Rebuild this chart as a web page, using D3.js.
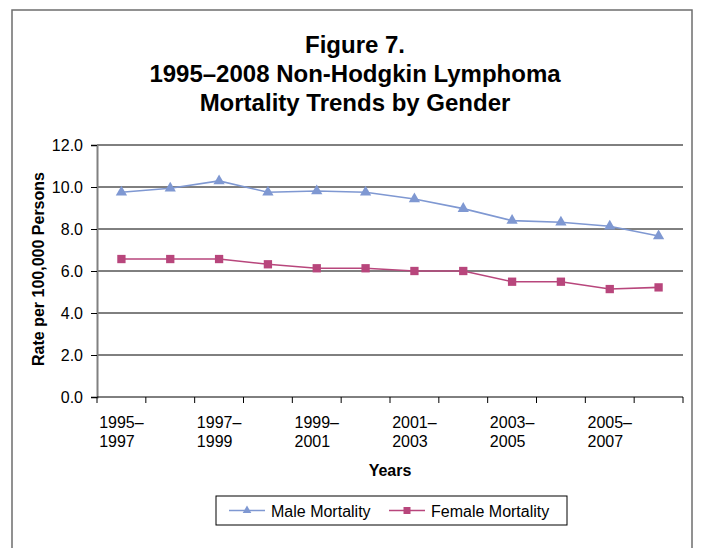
<!DOCTYPE html>
<html>
<head>
<meta charset="utf-8">
<script src="https://cdn.jsdelivr.net/npm/d3@7"></script>
<style>
  body { margin: 0; background: #fff; }
  text { font-family: "Liberation Sans", Arial, sans-serif; fill: #000; }
</style>
</head>
<body>
<div id="main"></div>
<script>
// data
const periods = ["1995–1997", "1996–1998", "1997–1999", "1998–2000", "1999–2001", "2000–2002",
  "2001–2003", "2002–2004", "2003–2005", "2004–2006", "2005–2007", "2006–2008"]
const maleRates = [9.75, 9.94, 10.29, 9.75, 9.81, 9.75, 9.43, 8.97, 8.40, 8.32, 8.13, 7.67]
const femaleRates = [6.57, 6.57, 6.57, 6.32, 6.13, 6.13, 6.00, 6.00, 5.49, 5.49, 5.14, 5.22]
const yTicks = [0, 2, 4, 6, 8, 10, 12]
const titleLines = ["Figure 7.", "1995–2008 Non-Hodgkin Lymphoma", "Mortality Trends by Gender"]

const maleColor = "#7f98d2"
const femaleColor = "#b8467c"

const W = 702, H = 548
const plot = {left: 97, right: 683, top: 145, bottom: 397}

const svg = d3.select("#main").append("svg")
  .attr("width", W).attr("height", H)

// outer frame
svg.append("rect")
  .attr("x", 12).attr("y", 10).attr("width", 680).attr("height", 560)
  .attr("fill", "none").attr("stroke", "#6e6e6e").attr("stroke-width", 1.5)

// title
svg.append("g").selectAll("text")
  .data(titleLines).enter().append("text")
  .attr("x", 355).attr("y", (d, i) => 53 + i * 29)
  .attr("text-anchor", "middle")
  .style("font-size", "24px").style("font-weight", "bold")
  .text(d => d)

const x = d3.scaleBand().domain(periods).range([plot.left, plot.right])
const y = d3.scaleLinear().domain([0, 12]).range([plot.bottom, plot.top])

// gridlines
svg.append("g").selectAll("line")
  .data(yTicks.filter(d => d > 0)).enter().append("line")
  .attr("x1", plot.left).attr("x2", plot.right)
  .attr("y1", d => y(d)).attr("y2", d => y(d))
  .attr("stroke", "#000").attr("stroke-width", 1)

// y axis
const yAxis = svg.append("g")
  .attr("transform", `translate(${plot.left},0)`)
  .call(d3.axisLeft(y).tickValues(yTicks).tickFormat(d3.format(".1f")).tickSize(6).tickPadding(8))
yAxis.select(".domain").attr("stroke", "#808080").attr("stroke-width", 2)
yAxis.selectAll(".tick line").attr("stroke", "#000")
yAxis.selectAll(".tick text")
  .style("font-size", "16px").style("font-family", "'Liberation Sans', Arial, sans-serif")
  .attr("fill", "#000")

// x axis (ticks between categories, Excel style)
const edges = periods.map(p => x(p)).concat([plot.right])
const xAxisG = svg.append("g")
xAxisG.append("line")
  .attr("x1", plot.left).attr("x2", plot.right)
  .attr("y1", plot.bottom).attr("y2", plot.bottom)
  .attr("stroke", "#000")
xAxisG.selectAll("line.tk")
  .data(edges).enter().append("line")
  .attr("class", "tk")
  .attr("x1", d => d).attr("x2", d => d)
  .attr("y1", plot.bottom).attr("y2", plot.bottom + 6)
  .attr("stroke", "#000")

// category labels, every other one, two lines left aligned, block centred on band
const labels = xAxisG.selectAll("text.lbl")
  .data(periods.filter((d, i) => i % 2 === 0)).enter().append("text")
  .attr("class", "lbl")
  .style("font-size", "16px")
labels.each(function(d) {
  const t = d3.select(this)
  const parts = d.split("–")
  t.append("tspan").attr("y", 428).text(parts[0] + "–")
  t.append("tspan").attr("y", 447).text(parts[1])
  const w = this.querySelector("tspan").getComputedTextLength()
  const left = x(d) + x.bandwidth() / 2 - w / 2
  t.selectAll("tspan").attr("x", left)
})

// axis titles
svg.append("text")
  .attr("transform", `translate(44,${(plot.top + plot.bottom) / 2 - 2}) rotate(-90)`)
  .attr("text-anchor", "middle")
  .style("font-size", "16px").style("font-weight", "bold")
  .text("Rate per 100,000 Persons")

svg.append("text")
  .attr("x", 390).attr("y", 476)
  .attr("text-anchor", "middle")
  .style("font-size", "16px").style("font-weight", "bold")
  .text("Years")

// series
const series = [
  {name: "Male Mortality", values: maleRates, color: maleColor, shape: d3.symbolTriangle},
  {name: "Female Mortality", values: femaleRates, color: femaleColor, shape: d3.symbolSquare}
]

const line = d3.line()
  .x((d, i) => x(periods[i]) + x.bandwidth() / 2)
  .y(d => y(d))

series.forEach(s => {
  svg.append("path")
    .datum(s.values)
    .attr("d", line)
    .attr("fill", "none")
    .attr("stroke", s.color)
    .attr("stroke-width", 1.6)

  svg.append("g").selectAll("path")
    .data(s.values).enter().append("path")
    .attr("transform", (d, i) => `translate(${x(periods[i]) + x.bandwidth() / 2},${y(d)})`)
    .attr("d", d3.symbol().type(s.shape).size(s.shape === d3.symbolTriangle ? 55 : 69))
    .attr("fill", s.color)
})

// legend
const legend = svg.append("g")
legend.append("rect")
  .attr("x", 216).attr("y", 496).attr("width", 351).attr("height", 29)
  .attr("fill", "#fff").attr("stroke", "#000").attr("stroke-width", 1)

const legendX = [229, 389]
series.forEach((s, i) => {
  const g = legend.append("g").attr("transform", `translate(${legendX[i]},510.5)`)
  g.append("line").attr("x1", 0).attr("x2", 36)
    .attr("stroke", s.color).attr("stroke-width", 1.6)
  g.append("path")
    .attr("transform", "translate(18,0)")
    .attr("d", d3.symbol().type(s.shape).size(s.shape === d3.symbolTriangle ? 32 : 49))
    .attr("fill", s.color)
  g.append("text").attr("x", 42).attr("y", 6)
    .style("font-size", "16px")
    .text(s.name)
})
</script>
</body>
</html>
